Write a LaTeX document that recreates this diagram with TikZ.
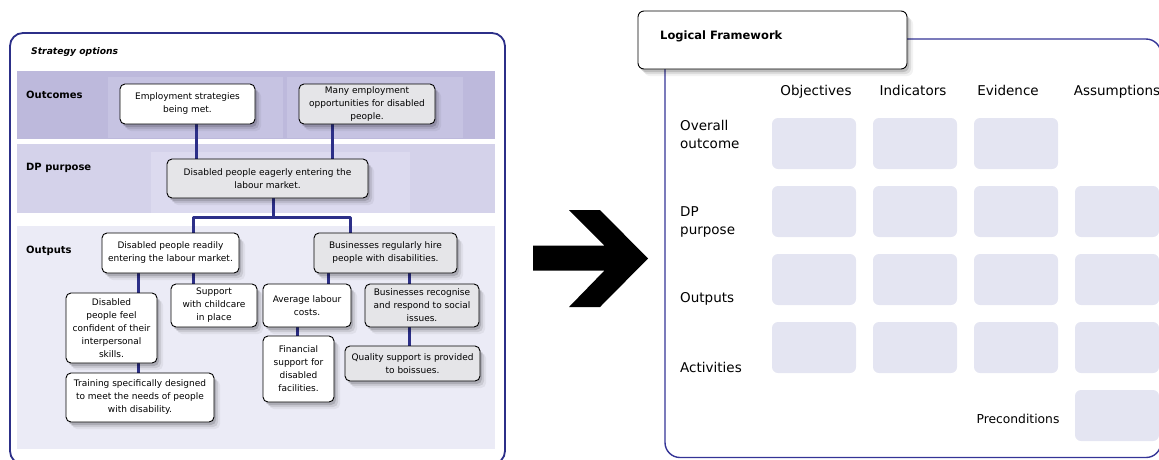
\documentclass[tikz,border=0pt]{standalone}
\usepackage{fontspec}
\setmainfont{DejaVu Sans}
\usetikzlibrary{shadows,calc}

\definecolor{linkblue}{RGB}{44,47,136}
\definecolor{frameblue}{RGB}{52,52,150}
\definecolor{bandA}{RGB}{189,185,220}
\definecolor{bandAcell}{RGB}{198,195,226}
\definecolor{bandB}{RGB}{212,210,234}
\definecolor{bandBcell}{RGB}{220,218,239}
\definecolor{bandC}{RGB}{235,235,246}
\definecolor{boxgrey}{RGB}{229,229,232}
\definecolor{cellfill}{RGB}{228,229,242}

\newcommand\boxfont{\fontsize{9}{13}\selectfont}
\newcommand\gridfont{\fontsize{13.5}{18}\selectfont}

\pgfdeclarelayer{back}
\pgfdeclarelayer{mid}
\pgfsetlayers{back,mid,main}

\tikzset{
  softshadow/.style={
    drop shadow={shadow xshift=2pt,shadow yshift=-3pt,opacity=.14,fill=black},
    drop shadow={shadow xshift=4pt,shadow yshift=-5pt,opacity=.09,fill=black},
    drop shadow={shadow xshift=6pt,shadow yshift=-7pt,opacity=.05,fill=black}},
  box/.style={draw=black, line width=0.9pt, rounded corners=5pt, align=center,
    inner sep=0pt, font=\boxfont, softshadow},
  wbox/.style={box, fill=white},
  gbox/.style={box, fill=boxgrey},
  link/.style={draw=linkblue, line width=3pt},
  bandlabel/.style={anchor=west, inner sep=0pt, font=\fontsize{10}{12}\selectfont\bfseries},
  cell/.style={fill=cellfill, rounded corners=6pt, minimum width=84pt,
    minimum height=51pt, inner sep=0pt},
  rowlabel/.style={anchor=base west, align=left, inner sep=0pt, font=\gridfont},
  colhead/.style={anchor=base, inner sep=0pt, font=\gridfont},
  framebox/.style={draw=frameblue, line width=1.4pt}
}

\begin{document}
\begin{tikzpicture}[x=1pt,y=-1pt]
\useasboundingbox (0,0) rectangle (1159,459);

% ---------- Strategy options panel ----------
\begin{pgfonlayer}{back}
  \fill[bandA] (17,71) rectangle (495,139);
  \fill[bandAcell] (108,77) rectangle (283,138);
  \fill[bandAcell] (287,77) rectangle (463,138);
  \fill[bandB] (17,144) rectangle (495,213);
  \fill[bandBcell] (151,152) rectangle (410,213);
  \fill[bandC] (17,226) rectangle (495,449);
\end{pgfonlayer}

\begin{scope}
  \clip (0,0) rectangle (1159,459);
  \draw[framebox, draw=linkblue, line width=1.8pt, rounded corners=13pt] (10,33) rectangle (505,464);
  \draw[framebox, rounded corners=15pt] (665,39) rectangle (1161,457.5);
\end{scope}

\node[anchor=west, inner sep=0pt, font=\fontsize{9.2}{11}\selectfont\bfseries\itshape]
  (sotitle) at (31,52) {Strategy options};
\node[bandlabel] (lOut) at (26,95) {Outcomes};
\node[bandlabel] (lDP) at (26,168) {DP purpose};
\node[bandlabel] (lOp) at (26,251) {Outputs};

\node[wbox, minimum width=135pt, minimum height=40pt] (b1) at (187.5,104)
  {Employment strategies\\being met.};
\node[gbox, minimum width=136pt, minimum height=40pt] (b2) at (367,104)
  {Many employment\\opportunities for disabled\\people.};
\node[gbox, minimum width=201pt, minimum height=39pt] (b3) at (267.5,178.5)
  {Disabled people eagerly entering the\\labour market.};
\node[wbox, minimum width=137pt, minimum height=40pt] (b4) at (170.5,253)
  {Disabled people readily\\entering the labour market.};
\node[gbox, minimum width=143pt, minimum height=40pt] (b5) at (385.5,253)
  {Businesses regularly hire\\people with disabilities.};
\node[wbox, minimum width=91pt, minimum height=70pt] (b6) at (111.5,328)
  {Disabled\\people feel\\confident of their\\interpersonal\\skills.};
\node[wbox, minimum width=86pt, minimum height=43pt] (b7) at (214,305.5)
  {Support\\with childcare\\in place};
\node[wbox, minimum width=88pt, minimum height=43pt] (b8) at (307,305.5)
  {Average labour\\costs.};
\node[gbox, minimum width=114pt, minimum height=43pt] (b9) at (422,305.5)
  {Businesses recognise\\and respond to social\\issues.};
\node[wbox, minimum width=148pt, minimum height=49pt] (b10) at (140,397.5)
  {Training specifically designed\\to meet the needs of people\\with disability.};
\node[wbox, minimum width=71pt, minimum height=66pt] (b11) at (298.5,369)
  {Financial\\support for\\disabled\\facilities.};
\node[gbox, minimum width=135pt, minimum height=35pt] (b12) at (412.5,363.5)
  {Quality support is provided\\to boissues.};

% tree connectors
\begin{pgfonlayer}{mid}
  \draw[link] ([xshift=8.5pt]b1.south) -- ([xshift=8.5pt]b1.south |- b3.north);
  \draw[link] ([xshift=-35pt]b2.south) -- ([xshift=-35pt]b2.south |- b3.north);
  \coordinate (fork) at ($(b3.south)+(5.5,19)$);
  \draw[link] ([xshift=5.5pt]b3.south) -- (fork);
  \draw[link, line join=round] ([xshift=22.5pt]b4.north) |- (fork) -| ([xshift=-35.5pt]b5.north);
  \draw[link] ([xshift=-32.5pt]b4.south) -- ([xshift=-32.5pt]b4.south |- b6.north);
  \draw[link] ([xshift=22.5pt]b4.south) -- ([xshift=22.5pt]b4.south |- b7.north);
  \draw[link] ([xshift=-57.5pt]b5.south) -- ([xshift=-57.5pt]b5.south |- b8.north);
  \draw[link] ([xshift=23.5pt]b5.south) -- ([xshift=23.5pt]b5.south |- b9.north);
  \draw[link] ([xshift=26.5pt]b6.south) -- ([xshift=26.5pt]b6.south |- b10.north);
  \draw[link] ([xshift=-10pt]b8.south) -- ([xshift=-10pt]b8.south |- b11.north);
  \draw[link] ([xshift=-13pt]b9.south) -- ([xshift=-13pt]b9.south |- b12.north);
\end{pgfonlayer}

% ---------- big arrow ----------
\fill[black] (533,245.5) -- (604.5,245.5) -- (569,210) -- (600,210) -- (648,258.5)
  -- (600,307) -- (569,307) -- (604.5,270.5) -- (533,270.5) -- cycle;

% ---------- Logical framework panel ----------
\node[draw=black, line width=0.9pt, fill=white, rounded corners=6pt, inner sep=0pt,
  minimum width=269pt, minimum height=58pt, softshadow] (lf) at (772.5,40) {};
\node[anchor=west, inner sep=0pt, font=\fontsize{11.5}{13}\selectfont\bfseries]
  (lftitle) at (660,36) {Logical Framework};

\node[colhead] (hObj) at (816,95) {Objectives};
\node[colhead] (hInd) at (913,95) {Indicators};
\node[colhead] (hEvi) at (1008,95) {Evidence};
\node[colhead] (hAss) at (1117,95) {Assumptions};

% multi-line labels sit on the baseline of their last line
\node[rowlabel] (rOver) at (680,148) {Overall\\outcome};
\node[rowlabel] (rDP) at (680,234) {DP\\purpose};
\node[rowlabel] (rOut) at (680,302) {Outputs};
\node[rowlabel] (rAct) at (680,372) {Activities};
\node[anchor=base, inner sep=0pt, font=\fontsize{12.3}{14}\selectfont] (rPre) at (1018,423.5) {Preconditions};

\foreach \c/\x in {1/814,2/915,3/1016,4/1117}{
  \foreach \r/\y in {1/143.5,2/211.5,3/279.5,4/347.5}{
    \ifnum\c\r=41\else
      \node[cell] (c-\r-\c) at (\x,\y) {};
    \fi
  }
}
\node[cell] (c-5-4) at (1117,415.5) {};

\end{tikzpicture}
\end{document}
